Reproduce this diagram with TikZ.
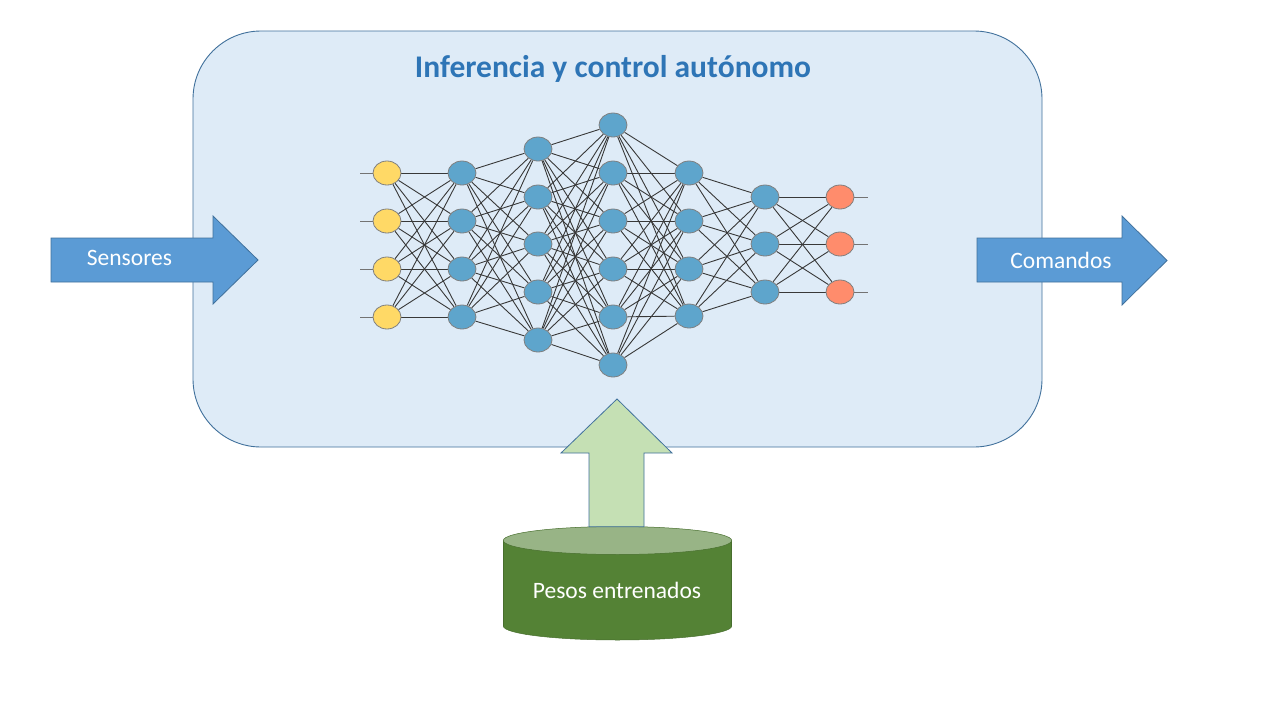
\documentclass[tikz,border=0pt]{standalone}
\usepackage{fontspec}
\setmainfont{Carlito}
\usetikzlibrary{shapes.geometric}
\definecolor{boxfill}{HTML}{DEEBF7}
\definecolor{boxline}{HTML}{41719C}
\definecolor{arrowblue}{HTML}{5B9BD5}
\definecolor{titleblue}{HTML}{2E75B6}
\definecolor{greenarrow}{HTML}{C5E0B4}
\definecolor{cylbody}{HTML}{548235}
\definecolor{cyltop}{HTML}{98B486}
\definecolor{neuronY}{HTML}{FFD966}
\definecolor{neuronB}{HTML}{5EA5CC}
\definecolor{neuronO}{HTML}{FF8C6C}
\pgfdeclarelayer{back}
\pgfdeclarelayer{mid}
\pgfsetlayers{back,mid,main}
\begin{document}
\begin{tikzpicture}[x=1pt,y=-1pt,
  neuron/.style={ellipse, draw=black!50, line width=0.8pt, minimum width=28pt, minimum height=24pt, inner sep=0pt},
  edge/.style={draw=black!78, line width=0.9pt},
  ioline/.style={draw=black!55, line width=1pt},
  lbl/.style={text=white, font=\fontsize{23.5}{28}\selectfont, inner sep=0pt},
  bigarrow/.style={fill=arrowblue, draw=boxline, line width=0.8pt},
  uparrow/.style={fill=greenarrow, draw=boxline, line width=0.8pt}]
\useasboundingbox (0,0) rectangle (1280,720);

% background and container
\begin{pgfonlayer}{back}
\fill[white] (0,0) rectangle (1280,720);
\draw[fill=boxfill, draw=boxline, line width=0.9pt, rounded corners=68pt] (193,31) rectangle (1042,447);
\end{pgfonlayer}
\node[text=titleblue, font=\fontsize{31.5}{36}\selectfont\bfseries, anchor=base, inner sep=0pt] (title) at (613,77) {Inferencia y control autónomo};

% neurons
\foreach \y [count=\i] in {173,221,269,317}
  \node[neuron, fill=neuronY] (n1-\i) at (387,\y) {};
\foreach \y [count=\i] in {173,221,269,317}
  \node[neuron, fill=neuronB] (n2-\i) at (462,\y) {};
\foreach \y [count=\i] in {149,197,244,292,340}
  \node[neuron, fill=neuronB] (n3-\i) at (538,\y) {};
\foreach \y [count=\i] in {125,173,221,269,317,365}
  \node[neuron, fill=neuronB] (n4-\i) at (613,\y) {};
\foreach \y [count=\i] in {173,221,269,316}
  \node[neuron, fill=neuronB] (n5-\i) at (689,\y) {};
\foreach \y [count=\i] in {197,244,292}
  \node[neuron, fill=neuronB] (n6-\i) at (765,\y) {};
\foreach \y [count=\i] in {197,244,292}
  \node[neuron, fill=neuronO] (n7-\i) at (840,\y) {};

% input / output stubs
\foreach \y [count=\i] in {173,221,269,317}
  \coordinate (in\i) at (360,\y);
\foreach \y [count=\i] in {197,244,292}
  \coordinate (out\i) at (868,\y);

% connections
\begin{pgfonlayer}{mid}
\foreach \a/\b/\na/\nb in {1/2/4/4, 2/3/4/5, 3/4/5/6, 4/5/6/4, 5/6/4/3, 6/7/3/3} {
  \foreach \i in {1,...,\na} {
    \foreach \j in {1,...,\nb} {
      \draw[edge] (n\a-\i) -- (n\b-\j);
    }
  }
}
\foreach \i in {1,...,4} \draw[ioline] (in\i) -- (n1-\i);
\foreach \i in {1,...,3} \draw[ioline] (n7-\i) -- (out\i);
\end{pgfonlayer}

% Sensores arrow
\draw[bigarrow] (51,238) -- (213,238) -- (213,216) -- (258,260) -- (213,304) -- (213,282) -- (51,282) -- cycle;
\node[lbl] (sensores) at (129.5,258) {Sensores};

% Comandos arrow
\draw[bigarrow] (977,238) -- (1122,238) -- (1122,216) -- (1167,260.5) -- (1122,305) -- (1122,282) -- (977,282) -- cycle;
\node[lbl] (comandos) at (1061,260) {Comandos};

% cylinder
\draw[fill=cylbody, draw=cylbody!85!black, line width=0.5pt] (617.5,626) ellipse [x radius=114.2, y radius=14];
\fill[cylbody] (503.3,540.5) rectangle (731.7,626);
\draw[cylbody!85!black, line width=0.5pt] (503.3,540.5) -- (503.3,626) (731.7,540.5) -- (731.7,626);
\draw[fill=cyltop, draw=cylbody!85!black, line width=0.5pt] (617.5,540.5) ellipse [x radius=114.2, y radius=14];
\node[lbl] (pesos) at (617,590) {Pesos entrenados};

% green arrow
\draw[uparrow] (589,526.7) -- (589,453) -- (561,453) -- (617,399) -- (672,453) -- (644,453) -- (644,526.7) -- cycle;
\end{tikzpicture}
\end{document}
